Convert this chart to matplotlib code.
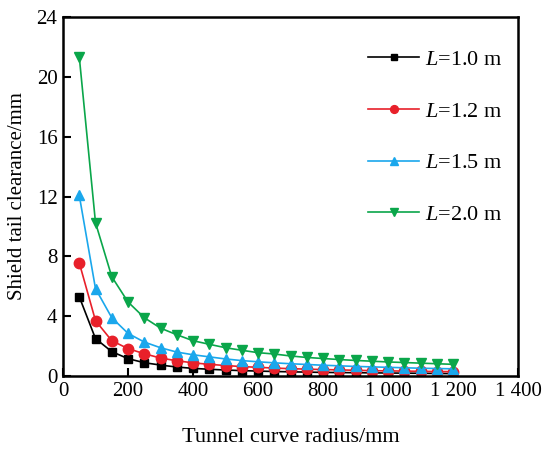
import matplotlib.pyplot as plt
import numpy as np

plt.rcParams['font.family'] = ['Liberation Serif', 'DejaVu Serif']
plt.rcParams['mathtext.fontset'] = 'custom'
plt.rcParams['mathtext.it'] = 'Liberation Serif:italic'
plt.rcParams['mathtext.rm'] = 'Liberation Serif'

# Tunnel curve radius (mm)
radius = np.arange(50, 1201, 50)

# Shield tail clearance (mm) for each segment length L
gap_10 = [5.3, 2.5, 1.63, 1.16, 0.89, 0.73, 0.6, 0.51, 0.45, 0.4, 0.36, 0.33,
          0.3, 0.28, 0.26, 0.24, 0.23, 0.22, 0.21, 0.2, 0.19, 0.18, 0.17, 0.16]
gap_12 = [7.57, 3.7, 2.36, 1.83, 1.49, 1.2, 1.02, 0.88, 0.78, 0.7, 0.63, 0.58,
          0.53, 0.49, 0.46, 0.43, 0.41, 0.38, 0.36, 0.34, 0.33, 0.31, 0.3, 0.29]
gap_15 = [12.08, 5.84, 3.9, 2.85, 2.27, 1.89, 1.6, 1.42, 1.28, 1.14, 1.03, 0.95,
          0.88, 0.82, 0.77, 0.72, 0.68, 0.64, 0.61, 0.58, 0.55, 0.52, 0.5, 0.48]
gap_20 = [21.35, 10.25, 6.64, 4.95, 3.9, 3.2, 2.76, 2.36, 2.12, 1.89, 1.72, 1.56,
          1.47, 1.34, 1.24, 1.17, 1.1, 1.04, 0.99, 0.94, 0.9, 0.86, 0.82, 0.78]

labels = [r'$L$=1.0 m', r'$L$=1.2 m', r'$L$=1.5 m', r'$L$=2.0 m']
xticks = [0, 200, 400, 600, 800, 1000, 1200, 1400]
xticklabels = ['0', '200', '400', '600', '800', '1 000', '1 200', '1 400']
yticks = [0, 4, 8, 12, 16, 20, 24]

fig = plt.figure(figsize=(5.45, 4.49), dpi=100)
ax = fig.add_axes([63 / 545, 1 - 376 / 449, 455 / 545, 359 / 449])

ax.plot(radius, gap_10, color='black', marker='s', ms=6, lw=1.2, label=labels[0])
ax.plot(radius, gap_12, color='#e8202a', marker='o', ms=7.5, lw=1.2, label=labels[1])
ax.plot(radius, gap_15, color='#1aa7ec', marker='^', ms=7.5, lw=1.2, label=labels[2])
ax.plot(radius, gap_20, color='#0aa64a', marker='v', ms=7.5, lw=1.2, label=labels[3])

ax.set_xlim(0, 1400)
ax.set_ylim(0, 24)
ax.set_xticks(xticks)
ax.set_xticklabels(xticklabels)
ax.set_yticks(yticks)
ax.tick_params(direction='in', length=6, width=1.5, labelsize=15, pad=4)
for s in ax.spines.values():
    s.set_linewidth(1.8)

ax.set_xlabel('Tunnel curve radius/mm', fontsize=16, labelpad=20)
ax.set_ylabel('Shield tail clearance/mm', fontsize=15, labelpad=7)

ax.legend(loc='upper right', frameon=False, fontsize=16, handlelength=2.3,
          markerscale=0.75, labelspacing=1.4, handletextpad=0.25,
          bbox_to_anchor=(1.01, 0.965))

fig.savefig('out.png', dpi=100)
